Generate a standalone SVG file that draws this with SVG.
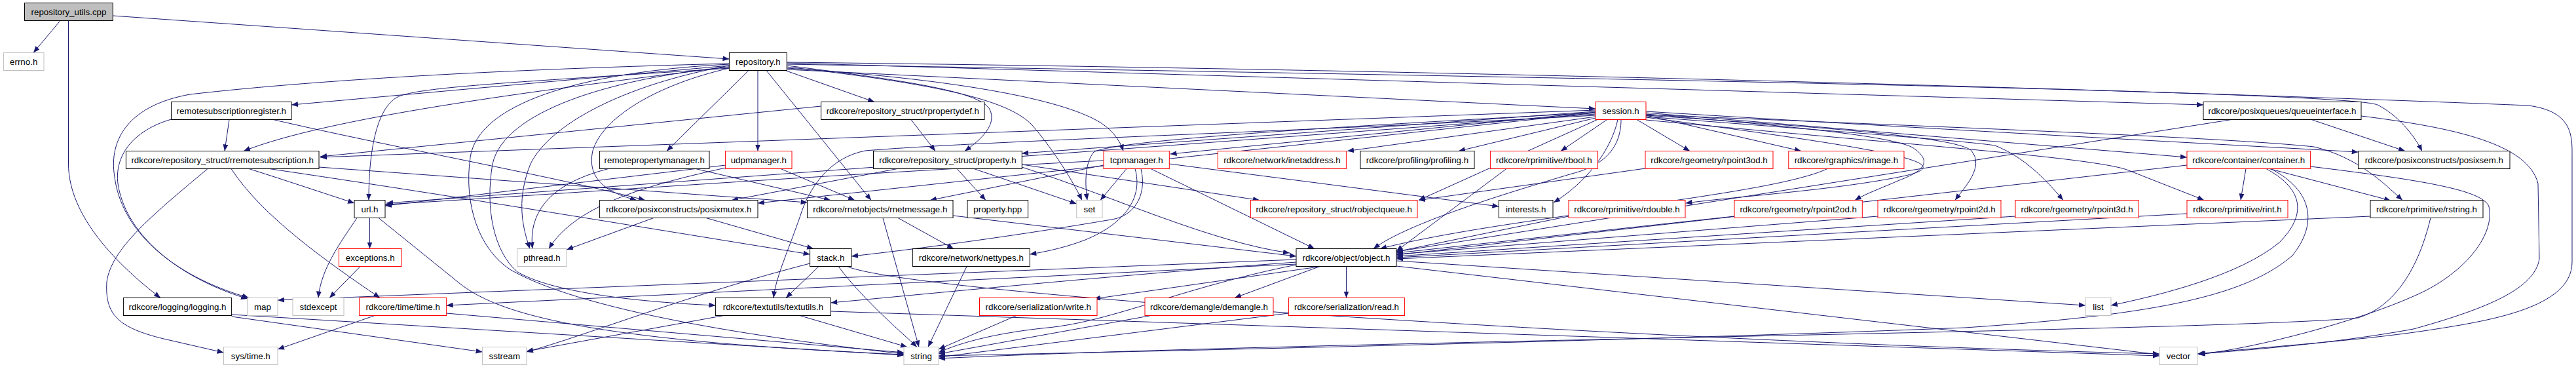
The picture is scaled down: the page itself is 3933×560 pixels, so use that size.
<svg xmlns="http://www.w3.org/2000/svg" width="3933" height="560" viewBox="0 0 3933 560">
<style>
.n rect{fill:#fff;stroke:#000;stroke-width:1}
.r rect{stroke:#f00}
.g rect{stroke:#bfbfbf}
.root rect{fill:#bfbfbf}
.n text{font-family:"Liberation Sans",Arial,Helvetica,sans-serif;font-size:13.33px;text-anchor:middle;fill:#000}
.e path{fill:none;stroke:#191970;stroke-width:1;marker-end:url(#a)}
</style>
<defs>
<marker id="a" markerUnits="userSpaceOnUse" markerWidth="11" markerHeight="8" refX="10" refY="4" orient="auto"><path d="M0,0 L10,4 L0,8 z" fill="#191970"/></marker>
</defs>
<rect width="3933" height="560" fill="#fff"/>
<g id="connectors" class="e">
<path d="M92,31.5 L51,80.5"/>
<path d="M172.3,24 L1113.4,90"/>
<path d="M104.5,31.5 L104.5,250 C104.5,330 180,405 245,454.5"/>
<path d="M1113.4,100 L445,160"/>
<path d="M1113.4,102 C800,140 500,180 372,230.5"/>
<path d="M1113.4,104 C800,125 640,132 607,148 C575,165 563,230 563,305.5"/>
<path d="M1113.4,97 C800,105 500,120 290,144 C200,160 165,210 175,270 C185,350 260,420 380,454.5"/>
<path d="M1143,107.5 L1018,230.5"/>
<path d="M1157,107.5 L1157,230.5"/>
<path d="M1170,107.5 L1330,305.5"/>
<path d="M1199,107.5 L1335,155.5"/>
<path d="M1201.3,100 C1400,125 1490,140 1510,165 C1525,190 1495,215 1473,230.5"/>
<path d="M1201.3,102 C1450,130 1540,155 1575,190 C1610,230 1640,280 1652,305.5"/>
<path d="M1201.3,104 C1450,120 1620,150 1680,187 C1700,200 1710,215 1715,230.5"/>
<path d="M1201.3,106 L2436,166"/>
<path d="M1201.3,96 L3364,160"/>
<path d="M1201.3,98 C2500,120 3580,140 3630,160 C3660,175 3685,205 3698,230.5"/>
<path d="M1201.3,95 C2500,110 3600,150 3860,161 C3930,170 3927,210 3927,240 L3927,400 C3927,470 3800,490 3700,505 C3600,520 3450,530 3355,540"/>
<path d="M1113.4,104 C1000,130 920,180 905,230 C895,275 930,295 972,305.5"/>
<path d="M1113.4,100 C950,130 840,190 810,250 C790,300 795,340 809,379.5"/>
<path d="M1113.4,98 C880,110 730,160 718,240 C708,310 730,380 780,412 C900,480 1200,520 1380,540"/>
<path d="M1113.4,102 C930,120 770,170 752,250 C740,320 755,385 790,415 C850,450 1000,462 1092.4,466"/>
<path d="M350,182.5 L343,230.5"/>
<path d="M261.6,182 C200,200 175,240 180,280 C190,350 260,420 378,456"/>
<path d="M417,182.5 C600,225 850,270 985,305.5"/>
<path d="M380,257.5 C420,270 480,290 541,310"/>
<path d="M353,257.5 C400,330 500,400 580,454.5"/>
<path d="M317,257.5 C230,330 170,380 163,430 C160,480 180,500 250,517 L341.5,538"/>
<path d="M487,255 L1232.6,309"/>
<path d="M411,257.5 C700,300 1000,350 1236.6,388"/>
<path d="M1253.6,162 L489,239"/>
<path d="M1391,182.5 L1428,230.5"/>
<path d="M929,257.5 C860,275 805,310 813,379.5"/>
<path d="M1062,257.5 L1268,305.5"/>
<path d="M1108,256 C1000,280 880,310 838,379.5"/>
<path d="M1108,252 L588,314"/>
<path d="M1192,257.5 L1305,305.5"/>
<path d="M1370,257.5 L1117,305.5"/>
<path d="M1461,257.5 L1505,305.5"/>
<path d="M1487,257.5 L1643.75,311"/>
<path d="M1560.3,251 L1923,305.5"/>
<path d="M1560.3,255 C1700,300 1850,370 1969,386"/>
<path d="M1720,257.5 L1680,305.5"/>
<path d="M1685,252 L1420,305.5"/>
<path d="M1733,257.5 C1745,300 1720,340 1657,366 C1620,380 1590,385 1572.3,388"/>
<path d="M1742,257.5 C1752,300 1730,330 1697,335 C1550,360 1400,380 1300,391"/>
<path d="M1757,257.5 L2007,379.5"/>
<path d="M1685,245 C1200,270 800,300 588,312"/>
<path d="M1785.3,250 L2288.4,315"/>
<path d="M2436,172 C2000,195 1700,215 1670,232 C1655,250 1657,285 1660,305.5"/>
<path d="M998,332.5 L865,381"/>
<path d="M1078,332.5 L1242,379.5"/>
<path d="M1348,332.5 L1403,529.5"/>
<path d="M1371,332.5 L1456,379.5"/>
<path d="M1455,329 L1979,391"/>
<path d="M1476,406.5 L1417,529.5"/>
<path d="M564.5,332.5 L564.5,379.5"/>
<path d="M545,332.5 C520,370 490,410 486,454.5"/>
<path d="M578,332.5 L700,431 C760,480 900,520 1380,541"/>
<path d="M550,406.5 L503,454.5"/>
<path d="M572,481.5 L424,533"/>
<path d="M681.7,478 L1380,538"/>
<path d="M353.6,483 L736.6,537"/>
<path d="M353.6,480 L1380,542"/>
<path d="M1250,406.5 L1200,454.5"/>
<path d="M1236.6,402 C1050,450 900,510 804,537"/>
<path d="M1280,406.5 C1320,460 1380,510 1400,529.5"/>
<path d="M1293,406.5 C1400,450 2500,520 3297,540"/>
<path d="M1105,481.5 L804,536"/>
<path d="M1221,481.5 L1385,529.5"/>
<path d="M1268.3,475 L3297,543"/>
<path d="M2017,406.5 L1670,456"/>
<path d="M2015,406.5 L1885,454.5"/>
<path d="M2055.5,406.5 L2055.5,454.5"/>
<path d="M2132,398 L3184,466"/>
<path d="M1979,404 C1800,440 1700,490 1600,500 C1500,510 1450,530 1433,538"/>
<path d="M2132,406 L3297,541"/>
<path d="M1979,400 C1700,420 1400,450 1268.3,462"/>
<path d="M1979,403 L681.7,466"/>
<path d="M1979,396 L424,458"/>
<path d="M1552,481.5 L1433,533"/>
<path d="M1760,481 L1433,540"/>
<path d="M1967.4,478 L1433,545"/>
<path d="M3711,332.5 C3690,420 3650,470 3600,485 C3400,505 2000,520 1433,547"/>
<path d="M3619,330 L2132,395"/>
<path d="M3429,257.5 L3421,305.5"/>
<path d="M3465,257.5 L3650,306"/>
<path d="M3339,252 L2132,389"/>
<path d="M3460,257.5 C3520,290 3520,330 3480,370 C3420,420 3300,450 3223,466"/>
<path d="M3467,257.5 C3530,290 3540,340 3500,390 C3430,450 3300,480 3000,500 C2500,520 1800,535 1433,543"/>
<path d="M3527.4,254 C3700,275 3790,290 3800,315 C3810,360 3760,420 3685,452 C3600,490 3450,530 3357,541"/>
<path d="M3529,182.5 L3672,230.5"/>
<path d="M3605,177 C3750,195 3860,220 3875,280 L3877,395 C3870,440 3800,470 3685,502 C3560,525 3420,535 3357,540"/>
<path d="M3407,182.5 L2132,384"/>
<path d="M2436,178 L2057,230.5"/>
<path d="M2436,180 L2227,230.5"/>
<path d="M2453.6,182.5 L2383,230.5"/>
<path d="M2499,182.5 L2580,230.5"/>
<path d="M2513,176 L2750,230.5"/>
<path d="M2475,182.5 C2475,215 2460,250 2400,265 C2300,295 2150,340 2097,379.5"/>
<path d="M2440,182 L2166,305.5"/>
<path d="M2470,182.5 C2460,230 2420,280 2372,309"/>
<path d="M2513,179 C2900,230 3000,250 2900,270 C2800,290 2650,300 2573.5,310"/>
<path d="M2513,174 C2700,190 2880,205 2920,225 C2950,245 2940,260 2900,275 C2870,288 2850,295 2832,305.5"/>
<path d="M2513,176 C2800,195 2990,210 3010,230 C3030,255 3000,285 2985,305.5"/>
<path d="M2513,178 C2800,200 3000,215 3046,222 C3090,240 3120,270 3150,305.5"/>
<path d="M2513,172 L3339,240"/>
<path d="M2513,170 C3000,200 3300,215 3600.6,232"/>
<path d="M2513,183 C2900,220 3200,240 3250,260 C3300,280 3340,295 3365,305.5"/>
<path d="M2513,175 C3000,195 3400,210 3533,224 C3600,240 3640,280 3668,305.5"/>
<path d="M2436,170 L1560.3,234"/>
<path d="M2436,171 L1786.6,235"/>
<path d="M2436,172 L1157,310"/>
<path d="M2436,174 L590,310"/>
<path d="M2436,168 L489,240"/>
<path d="M2436,176 C2000,200 1500,215 1321,230 C1270,240 1240,280 1225,320 C1205,380 1185,420 1181,454.5"/>
<path d="M3339,326 L2132,393"/>
<path d="M3077,330 L2132,391"/>
<path d="M2867,330 L2132,388"/>
<path d="M2648,330 L2132,386"/>
<path d="M2395,330 L2132,384"/>
<path d="M2790,257.5 C2700,300 2300,330 2107,379.5"/>
<path d="M2300,257.5 L2132,383"/>
<path d="M2512,257 L2166,305.5"/>
</g>
<g id="n_cpp" class="n root"><rect x="37.5" y="4.5" width="134.8" height="27"/><text x="105" y="23">repository_utils.cpp</text></g>
<g id="n_errno" class="n g"><rect x="5.4" y="80.5" width="61.6" height="27"/><text x="36.2" y="99">errno.h</text></g>
<g id="n_repo" class="n"><rect x="1113.4" y="80.5" width="87.9" height="27"/><text x="1157.3" y="99">repository.h</text></g>
<g id="n_rsr" class="n"><rect x="261.6" y="155.5" width="183.4" height="27"/><text x="353.3" y="174">remotesubscriptionregister.h</text></g>
<g id="n_rpdef" class="n"><rect x="1253.6" y="155.5" width="249.4" height="27"/><text x="1378.3" y="174">rdkcore/repository_struct/rpropertydef.h</text></g>
<g id="n_session" class="n r"><rect x="2436" y="155.5" width="77" height="27"/><text x="2474.5" y="174">session.h</text></g>
<g id="n_qi" class="n"><rect x="3364" y="155.5" width="241" height="27"/><text x="3484.5" y="174">rdkcore/posixqueues/queueinterface.h</text></g>
<g id="n_rrs" class="n"><rect x="192.4" y="230.5" width="294.6" height="27"/><text x="339.7" y="249">rdkcore/repository_struct/rremotesubscription.h</text></g>
<g id="n_rpm" class="n"><rect x="915.6" y="230.5" width="167.4" height="27"/><text x="999.3" y="249">remotepropertymanager.h</text></g>
<g id="n_udp" class="n r"><rect x="1107.6" y="230.5" width="101.4" height="27"/><text x="1158.3" y="249">udpmanager.h</text></g>
<g id="n_prop" class="n"><rect x="1333.5" y="230.5" width="226.8" height="27"/><text x="1446.9" y="249">rdkcore/repository_struct/property.h</text></g>
<g id="n_tcp" class="n r"><rect x="1685" y="230.5" width="100.3" height="27"/><text x="1735.2" y="249">tcpmanager.h</text></g>
<g id="n_inet" class="n r"><rect x="1859.4" y="230.5" width="196" height="27"/><text x="1957.4" y="249">rdkcore/network/inetaddress.h</text></g>
<g id="n_prof" class="n"><rect x="2077" y="230.5" width="174" height="27"/><text x="2164" y="249">rdkcore/profiling/profiling.h</text></g>
<g id="n_rbool" class="n r"><rect x="2275.4" y="230.5" width="163.9" height="27"/><text x="2357.4" y="249">rdkcore/rprimitive/rbool.h</text></g>
<g id="n_rp3od" class="n r"><rect x="2512" y="230.5" width="195" height="27"/><text x="2609.5" y="249">rdkcore/rgeometry/rpoint3od.h</text></g>
<g id="n_rimage" class="n r"><rect x="2730.8" y="230.5" width="176.2" height="27"/><text x="2818.9" y="249">rdkcore/rgraphics/rimage.h</text></g>
<g id="n_cont" class="n r"><rect x="3339" y="230.5" width="188.4" height="27"/><text x="3433.2" y="249">rdkcore/container/container.h</text></g>
<g id="n_psem" class="n"><rect x="3600.6" y="230.5" width="231.4" height="27"/><text x="3716.3" y="249">rdkcore/posixconstructs/posixsem.h</text></g>
<g id="n_url" class="n"><rect x="541" y="305.5" width="47" height="27"/><text x="564.5" y="324">url.h</text></g>
<g id="n_pmutex" class="n"><rect x="915.6" y="305.5" width="241.4" height="27"/><text x="1036.3" y="324">rdkcore/posixconstructs/posixmutex.h</text></g>
<g id="n_netmsg" class="n"><rect x="1232.6" y="305.5" width="222.4" height="27"/><text x="1343.8" y="324">rdkcore/rnetobjects/rnetmessage.h</text></g>
<g id="n_phpp" class="n"><rect x="1477" y="305.5" width="92.6" height="27"/><text x="1523.3" y="324">property.hpp</text></g>
<g id="n_set" class="n g"><rect x="1643.75" y="305.5" width="39.25" height="27"/><text x="1663.4" y="324">set</text></g>
<g id="n_oq" class="n r"><rect x="1909.4" y="305.5" width="254.6" height="27"/><text x="2036.7" y="324">rdkcore/repository_struct/robjectqueue.h</text></g>
<g id="n_interests" class="n"><rect x="2288.4" y="305.5" width="82.6" height="27"/><text x="2329.7" y="324">interests.h</text></g>
<g id="n_rdouble" class="n r"><rect x="2395" y="305.5" width="178" height="27"/><text x="2484" y="324">rdkcore/rprimitive/rdouble.h</text></g>
<g id="n_rp2od" class="n r"><rect x="2648" y="305.5" width="195.3" height="27"/><text x="2745.7" y="324">rdkcore/rgeometry/rpoint2od.h</text></g>
<g id="n_rp2d" class="n r"><rect x="2867" y="305.5" width="188" height="27"/><text x="2961" y="324">rdkcore/rgeometry/rpoint2d.h</text></g>
<g id="n_rp3d" class="n r"><rect x="3077" y="305.5" width="188" height="27"/><text x="3171" y="324">rdkcore/rgeometry/rpoint3d.h</text></g>
<g id="n_rint" class="n r"><rect x="3339" y="305.5" width="154" height="27"/><text x="3416" y="324">rdkcore/rprimitive/rint.h</text></g>
<g id="n_rstring" class="n"><rect x="3619" y="305.5" width="172" height="27"/><text x="3705" y="324">rdkcore/rprimitive/rstring.h</text></g>
<g id="n_exc" class="n r"><rect x="517.4" y="379.5" width="95.6" height="27"/><text x="565.2" y="398">exceptions.h</text></g>
<g id="n_pthread" class="n g"><rect x="789.7" y="379.5" width="75.3" height="27"/><text x="827.4" y="398">pthread.h</text></g>
<g id="n_stack" class="n"><rect x="1236.6" y="379.5" width="63.4" height="27"/><text x="1268.3" y="398">stack.h</text></g>
<g id="n_nettypes" class="n"><rect x="1393.3" y="379.5" width="179" height="27"/><text x="1482.8" y="398">rdkcore/network/nettypes.h</text></g>
<g id="n_object" class="n"><rect x="1979" y="379.5" width="153" height="27"/><text x="2055.5" y="398">rdkcore/object/object.h</text></g>
<g id="n_logging" class="n"><rect x="188.4" y="454.5" width="165.2" height="27"/><text x="271" y="473">rdkcore/logging/logging.h</text></g>
<g id="n_map" class="n g"><rect x="377.7" y="454.5" width="46.3" height="27"/><text x="400.9" y="473">map</text></g>
<g id="n_stdexcept" class="n g"><rect x="447" y="454.5" width="78" height="27"/><text x="486" y="473">stdexcept</text></g>
<g id="n_time" class="n r"><rect x="548.7" y="454.5" width="133" height="27"/><text x="615.2" y="473">rdkcore/time/time.h</text></g>
<g id="n_textutils" class="n"><rect x="1092.4" y="454.5" width="175.9" height="27"/><text x="1180.4" y="473">rdkcore/textutils/textutils.h</text></g>
<g id="n_write" class="n r"><rect x="1495.5" y="454.5" width="179.5" height="27"/><text x="1585.3" y="473">rdkcore/serialization/write.h</text></g>
<g id="n_demangle" class="n r"><rect x="1748" y="454.5" width="196" height="27"/><text x="1846" y="473">rdkcore/demangle/demangle.h</text></g>
<g id="n_read" class="n r"><rect x="1967.4" y="454.5" width="177.2" height="27"/><text x="2056" y="473">rdkcore/serialization/read.h</text></g>
<g id="n_list" class="n g"><rect x="3184" y="454.5" width="39" height="27"/><text x="3203.5" y="473">list</text></g>
<g id="n_systime" class="n g"><rect x="341.5" y="529.5" width="82.5" height="27"/><text x="382.8" y="548">sys/time.h</text></g>
<g id="n_sstream" class="n g"><rect x="736.6" y="529.5" width="67.4" height="27"/><text x="770.3" y="548">sstream</text></g>
<g id="n_string" class="n g"><rect x="1380" y="529.5" width="53" height="27"/><text x="1406.5" y="548">string</text></g>
<g id="n_vector" class="n g"><rect x="3297" y="529.5" width="58" height="27"/><text x="3326" y="548">vector</text></g>
</svg>
